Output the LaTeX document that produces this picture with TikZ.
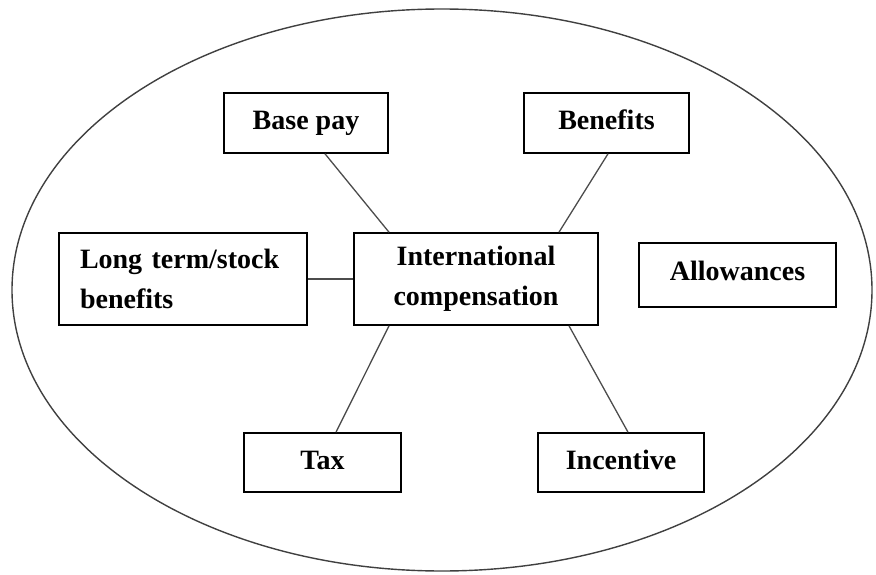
\documentclass[tikz,border=0pt]{standalone}
\usepackage{fontspec}
\setmainfont{Liberation Serif}
\begin{document}
\begin{tikzpicture}[x=1pt,y=-1pt,
  box/.style={draw=black, line width=1.6pt, inner sep=0pt, align=center,
    font=\fontsize{28}{40}\selectfont\bfseries},
  one/.style={text height=19pt, text depth=6pt},
  link/.style={draw=black!70, line width=1.3pt}]
\useasboundingbox (0,0) rectangle (876,575);
\draw[line width=1.4pt, draw=black!75] (442,290) ellipse [x radius=430pt, y radius=281pt];
\node[box, one, minimum width=164pt, minimum height=60pt] (bp) at (306,123) {Base pay};
\node[box, one, minimum width=165pt, minimum height=60pt] (bn) at (606.5,123) {Benefits};
\node[box, minimum width=248pt, minimum height=92pt, align=left, text width=206pt, inner xsep=21pt] (lt) at (183,279) {Long term/stock\\benefits};
\node[box, minimum width=244pt, minimum height=92pt] (ic) at (476,279) {International\\compensation};
\node[box, text height=16pt, text depth=6pt, minimum width=197pt, minimum height=64pt] (al) at (737.5,275) {Allowances};
\node[box, one, minimum width=157pt, minimum height=59pt] (tx) at (322.5,462.5) {Tax};
\node[box, one, minimum width=166pt, minimum height=59pt] (in) at (621,462.5) {Incentive};
\draw[link] ([xshift=19pt]bp.south) -- ([xshift=-87pt]ic.north);
\draw[link] ([xshift=1.5pt]bn.south) -- ([xshift=83pt]ic.north);
\draw[link] (lt.east) -- (ic.west);
\draw[link] ([xshift=-87pt]ic.south) -- ([xshift=13.5pt]tx.north);
\draw[link] ([xshift=93pt]ic.south) -- ([xshift=7pt]in.north);
\end{tikzpicture}
\end{document}
